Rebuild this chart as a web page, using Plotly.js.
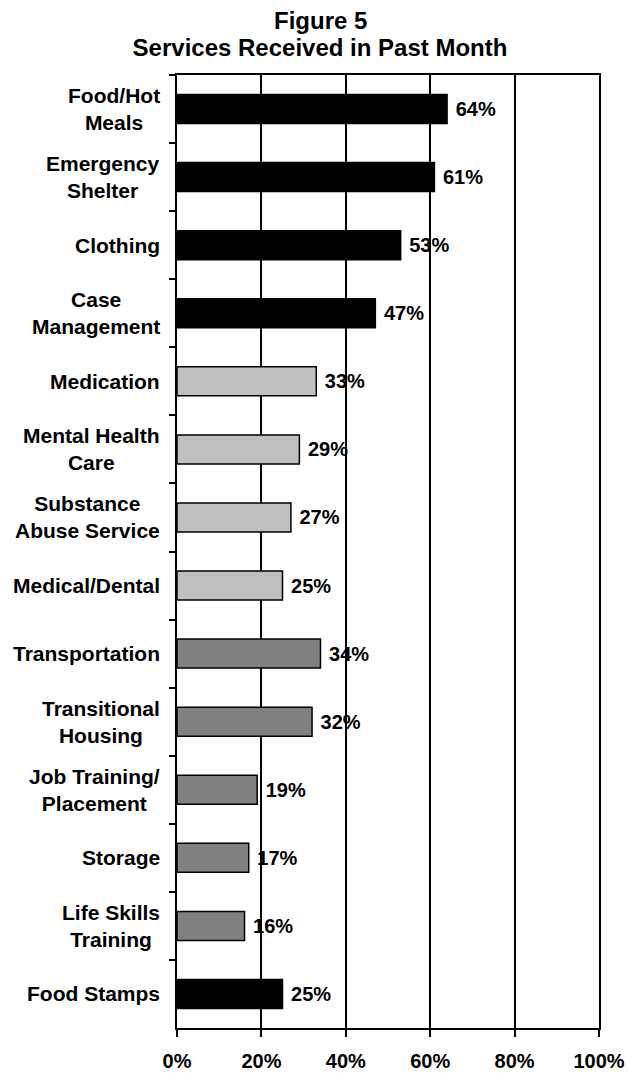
<!DOCTYPE html>
<html>
<head>
<meta charset="utf-8">
<script src="https://cdn.plot.ly/plotly-3.0.1.min.js"></script>
<style>
  html, body { margin: 0; padding: 0; background: #ffffff; }
  #chart { width: 628px; height: 1073px; }
</style>
</head>
<body>
<div id="chart"></div>
<script>
// ---- Data ----
const categories = [
  "Food/Hot<br>Meals",
  "Emergency<br>Shelter",
  "Clothing",
  "Case<br>Management",
  "Medication",
  "Mental Health<br>Care",
  "Substance<br>Abuse Service",
  "Medical/Dental",
  "Transportation",
  "Transitional<br>Housing",
  "Job Training/<br>Placement",
  "Storage",
  "Life Skills<br>Training",
  "Food Stamps"
];
const values = [64, 61, 53, 47, 33, 29, 27, 25, 34, 32, 19, 17, 16, 25];
const groups = ["basic", "basic", "basic", "basic",
                "health", "health", "health", "health",
                "other", "other", "other", "other", "other",
                "basic"];
const xTickValues = [0, 20, 40, 60, 80, 100];
const xTickLabels = ["0%", "20%", "40%", "60%", "80%", "100%"];
const titleLine1 = "Figure 5";
const titleLine2 = "Services Received in Past Month";

// ---- Styles ----
const groupColors = { basic: "#000000", health: "#C0C0C0", other: "#808080" };
const FONT = "Liberation Sans, Arial, Helvetica, sans-serif";

const trace = {
  type: "bar",
  orientation: "h",
  y: categories,
  x: values,
  marker: {
    color: groups.map(g => groupColors[g]),
    line: { color: "#000000", width: 1.5 }
  },
  text: values.map(v => "\u00a0" + v + "%"),
  texttemplate: "%{text}",
  textposition: "outside",
  constraintext: "none",
  cliponaxis: false,
  textfont: { family: FONT, size: 20, color: "#000000", weight: "bold" },
  hoverinfo: "skip"
};

const labelAnnotations = categories.map(c => ({
  xref: "paper", yref: "y",
  x: 0, y: c,
  xanchor: "right", yanchor: "middle",
  xshift: -15,
  align: "center",
  showarrow: false,
  text: c,
  font: { family: FONT, size: 21, color: "#000000", weight: "bold" }
}));

const layout = {
  width: 628,
  height: 1073,
  margin: { l: 177, r: 29, t: 75, b: 45, pad: 0 },
  paper_bgcolor: "#ffffff",
  plot_bgcolor: "#ffffff",
  showlegend: false,
  bargap: 0.574,
  title: {
    text: titleLine2,
    xref: "container", yref: "container",
    x: 320 / 628, xanchor: "center",
    y: 1 - 48 / 1073, yanchor: "middle",
    font: { family: FONT, size: 24, color: "#000000", weight: "bold" }
  },
  xaxis: {
    range: [0, 100],
    tickvals: xTickValues,
    ticktext: xTickLabels,
    ticks: "outside",
    ticklen: 7,
    tickwidth: 2,
    tickcolor: "#000000",
    showgrid: true,
    gridcolor: "#000000",
    gridwidth: 2,
    zeroline: false,
    showline: true,
    linecolor: "#000000",
    linewidth: 2,
    mirror: true,
    ticklabelstandoff: 7,
    tickfont: { family: FONT, size: 20, color: "#000000", weight: "bold" },
    fixedrange: true
  },
  yaxis: {
    type: "category",
    autorange: "reversed",
    tickson: "boundaries",
    ticks: "outside",
    ticklen: 6,
    tickwidth: 2,
    tickcolor: "#000000",
    showticklabels: false,
    showgrid: false,
    zeroline: false,
    showline: true,
    linecolor: "#000000",
    linewidth: 2,
    mirror: true,
    fixedrange: true
  },
  annotations: labelAnnotations.concat([{
    xref: "paper", yref: "paper",
    x: (320 - 177) / 422, y: 1,
    xanchor: "center", yanchor: "middle",
    yshift: 55,
    showarrow: false,
    text: titleLine1,
    font: { family: FONT, size: 24, color: "#000000", weight: "bold" }
  }])
};

Plotly.newPlot("chart", [trace], layout, { displayModeBar: false, staticPlot: true });
</script>
</body>
</html>
